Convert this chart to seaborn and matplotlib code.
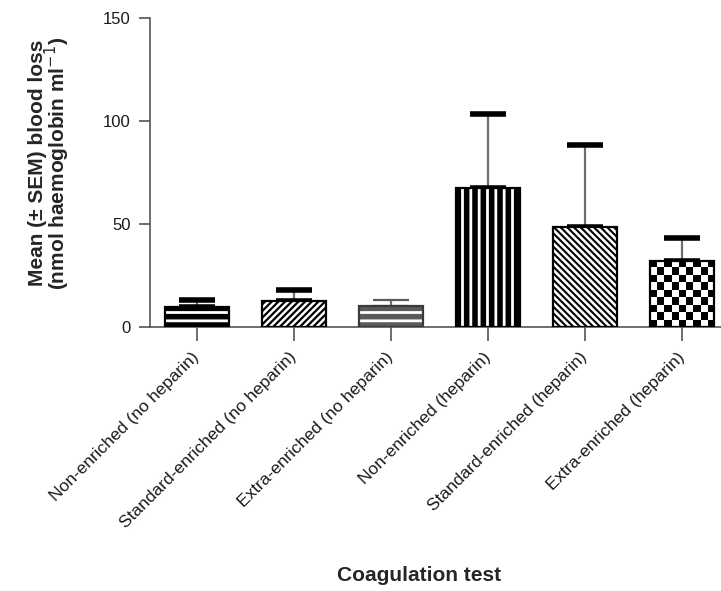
import numpy as np
import pandas as pd
import matplotlib
matplotlib.use("Agg")
import matplotlib.pyplot as plt
import seaborn as sns

categories = [
    "Non-enriched (no heparin)",
    "Standard-enriched (no heparin)",
    "Extra-enriched (no heparin)",
    "Non-enriched (heparin)",
    "Standard-enriched (heparin)",
    "Extra-enriched (heparin)",
]
means = [9.8, 12.5, 10.2, 67.5, 48.6, 32.2]
sems = [3.3, 5.6, 2.9, 36.0, 39.5, 11.0]
yticks = [0, 50, 100, 150]

sns.set_theme(style="white")
plt.rcParams["font.family"] = ["Liberation Sans", "DejaVu Sans"]
plt.rcParams["hatch.linewidth"] = 2.0

df = pd.DataFrame({"test": categories, "loss": means})

fig = plt.figure(figsize=(7.21, 5.91), dpi=100)
ax = fig.add_axes([0.208, 0.447, 0.792, 0.5225])

sns.barplot(data=df, x="test", y="loss", order=categories, errorbar=None,
            width=0.66, color="black", ax=ax, zorder=2)

faces = ["black", "white", "#5a5a5a", "black", "white", "white"]
hatch_col = ["white", "black", "white", "white", "black", None]
hatches = ["--", "/////", "--", "||", "\\\\\\\\\\", None]
hatch_lw = [2.0, 1.6, 2.0, 2.0, 1.5, 1.0]
edges = ["black", "black", "#3a3a3a", "black", "black", "black"]

patches = list(ax.patches)
for i, p in enumerate(patches):
    p.set_facecolor(faces[i])
    p.set_linewidth(0)
    if hatches[i]:
        p.set_edgecolor(hatch_col[i])
        p.set_hatch(hatches[i])
        if hasattr(p, "set_hatch_linewidth"):
            p.set_hatch_linewidth(hatch_lw[i])
    x0, y0, w, h = p.get_x(), p.get_y(), p.get_width(), p.get_height()
    if i == 5:
        nx = 9
        ny = max(1, int(round(h / 3.6)))
        board = (np.add.outer(np.arange(ny), np.arange(nx)) % 2).astype(float)
        im = ax.imshow(board, cmap="gray", extent=(x0, x0 + w, y0, y0 + h),
                       origin="lower", interpolation="nearest", aspect="auto",
                       zorder=2.5)
        im.set_clip_path(p)
    outline = plt.Rectangle((x0, y0), w, h, fill=False, edgecolor=edges[i],
                            linewidth=1.6, zorder=3)
    ax.add_patch(outline)

# error bars (upper only)
for i, (m, s) in enumerate(zip(means, sems)):
    cap_col = "#5a5a5a" if i == 2 else "black"
    cap_w = 1.6 if i == 2 else 4
    ax.errorbar(i, m, yerr=[[0], [s]], fmt="none", ecolor="#6e6e6e",
                elinewidth=1.6, capsize=0, zorder=1)
    ax.errorbar(i, m, yerr=[[0], [s]], fmt="none", ecolor=cap_col,
                elinewidth=0, capsize=13, capthick=cap_w, zorder=1.5)

ax.set_ylim(0, 150)
ax.set_xlim(-0.485, 5.4)
ax.set_yticks(yticks)
ax.set_yticklabels([str(t) for t in yticks])

for side in ["top", "right"]:
    ax.spines[side].set_visible(False)
for side in ["left", "bottom"]:
    ax.spines[side].set_color("#555555")
    ax.spines[side].set_linewidth(1.2)

ax.tick_params(axis="both", direction="out", width=1.2, bottom=True, left=True,
               color="#555555", labelcolor="#1a1a1a")
ax.tick_params(axis="x", length=10, pad=10, labelsize=12.5)
ax.tick_params(axis="y", length=8, pad=6, labelsize=12)
ax.set_xticks(range(len(categories)))
ax.set_xticklabels(categories, rotation=45, ha="right", va="center",
                   rotation_mode="anchor")

ax.set_ylabel("Mean (± SEM) blood loss\n(nmol haemoglobin ml$^{-1}$)",
              fontsize=15, fontweight="bold", linespacing=0.8)
ax.yaxis.set_label_coords(-0.137, 0.53)
ax.set_xlabel("")
fig.text(0.581, 0.01, "Coagulation test", fontsize=15, fontweight="bold",
         ha="center", va="bottom")

fig.savefig("out.png", dpi=100)
